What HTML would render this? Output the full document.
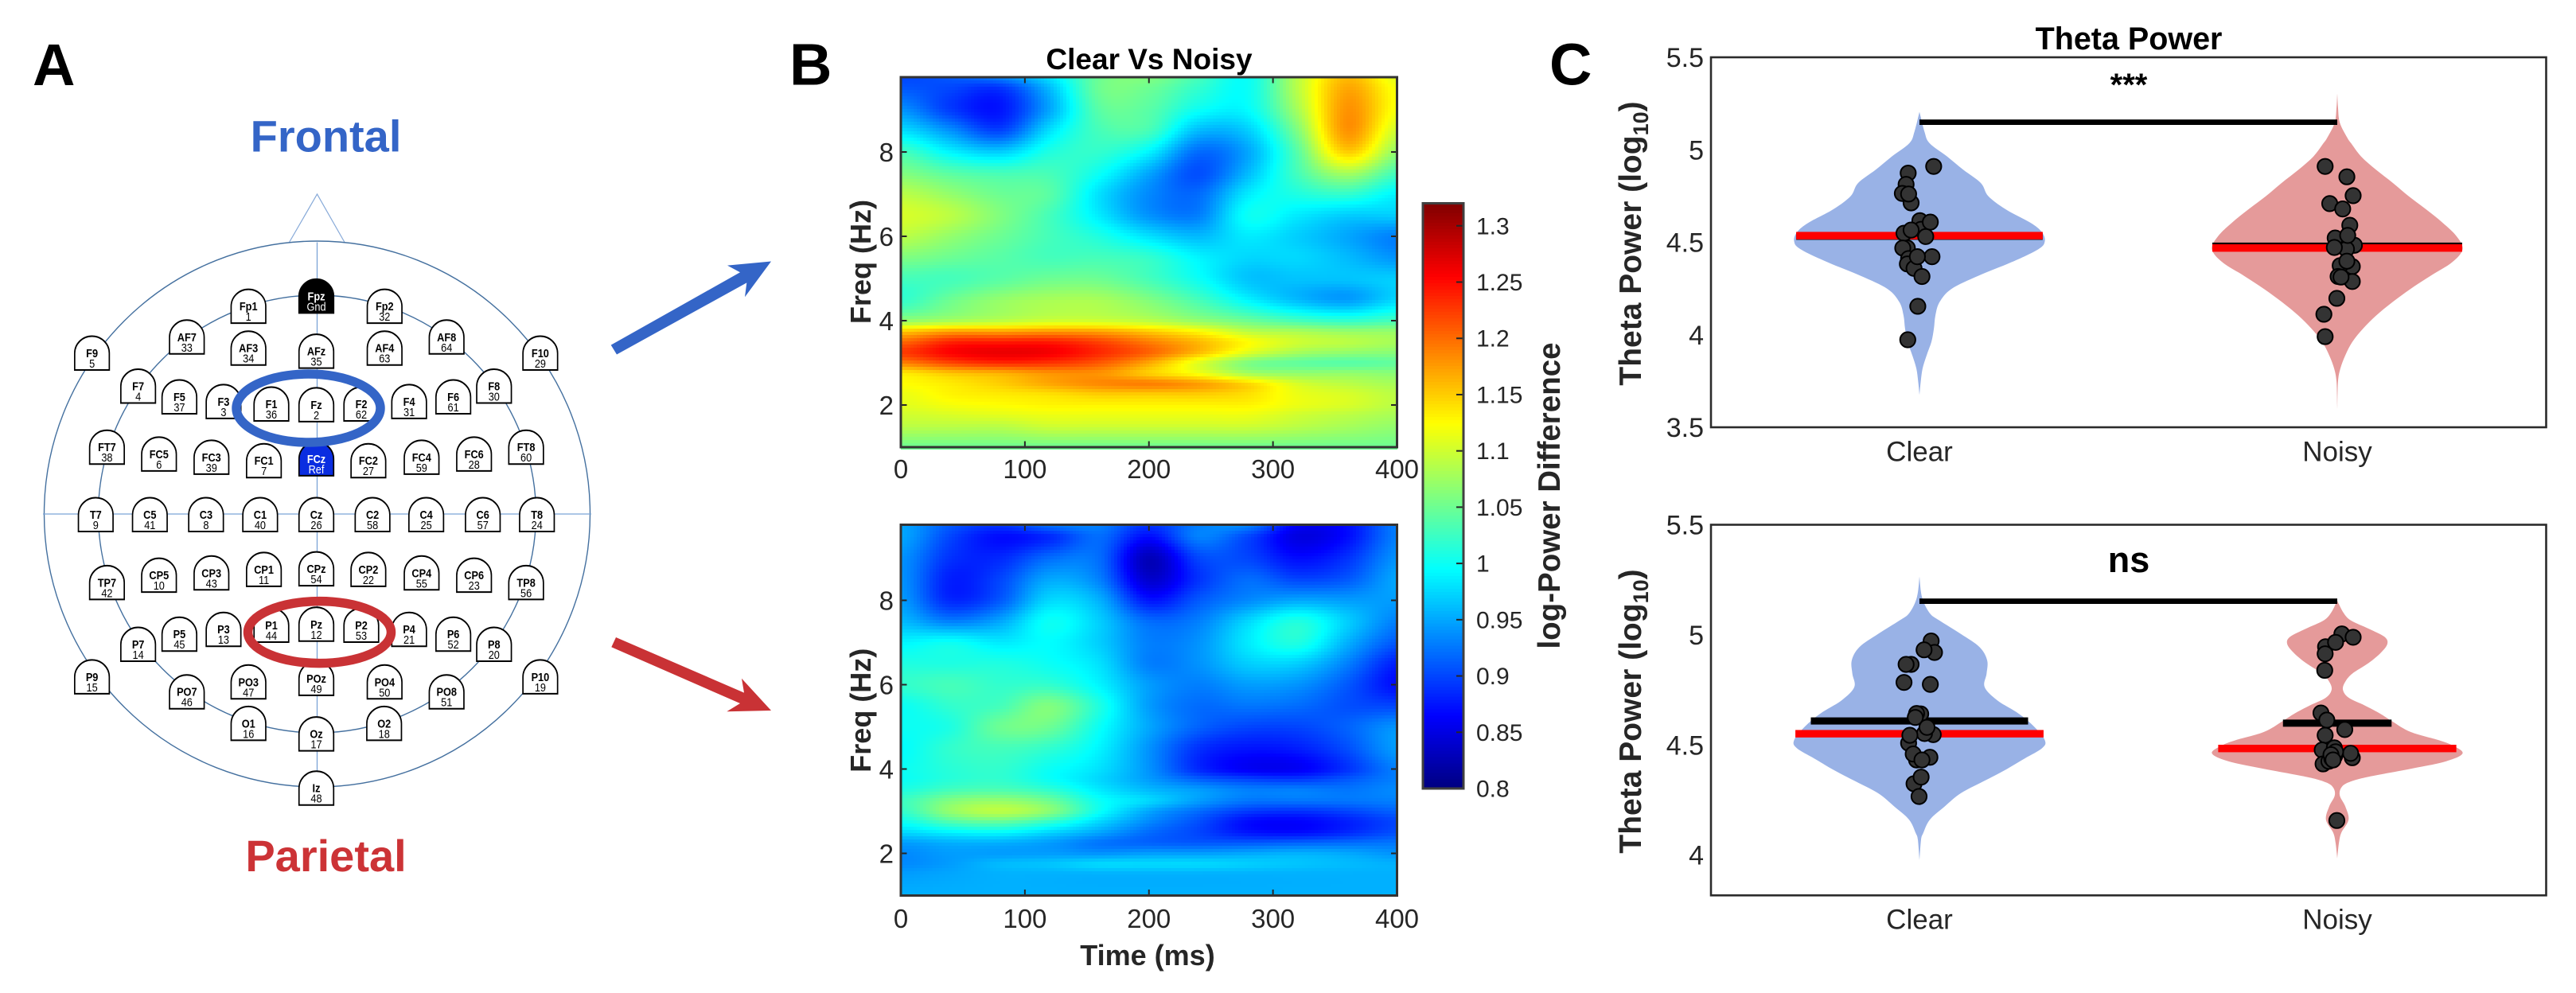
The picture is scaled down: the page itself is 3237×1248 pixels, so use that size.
<!DOCTYPE html>
<html lang="en">
<head>
<meta charset="utf-8">
<title>Clear vs Noisy Theta Power</title>
<style>
html,body{margin:0;padding:0;background:#fff;}
svg{display:block;}
text{font-family:"Liberation Sans",sans-serif;}
.en{font-size:15px;font-weight:bold;text-anchor:middle;fill:#000;}
.ed{font-size:15px;text-anchor:middle;fill:#000;}
.w{fill:#fff;}
.panel{font-size:74px;font-weight:bold;fill:#000;}
.tick{fill:#262626;}
.lab{font-weight:bold;fill:#262626;text-anchor:middle;}
</style>
</head>
<body>
<svg id="fig" xmlns="http://www.w3.org/2000/svg" width="3237" height="1248" viewBox="0 0 3237 1248">
<rect x="0" y="0" width="3237" height="1248" fill="#fff"/>
<text class="panel" x="41" y="107">A</text>
<text class="panel" x="992" y="106.5">B</text>
<text class="panel" x="1947" y="106.5">C</text>

<g id="panel-a">
<text x="409.5" y="190.6" font-size="56" font-weight="bold" fill="#3465c7" text-anchor="middle">Frontal</text>
<text x="409.5" y="1095" font-size="56" font-weight="bold" fill="#cc3336" text-anchor="middle">Parietal</text>
<path d="M363.5,304.5L398.5,244L433,304.5" fill="none" stroke="#86a9d8" stroke-width="1.2"/>
<circle cx="398.5" cy="646" r="343" fill="none" stroke="#44709f" stroke-width="1.4"/>
<circle cx="398.5" cy="646" r="275" fill="none" stroke="#44709f" stroke-width="1.4"/>
<line x1="398.5" y1="304.5" x2="398.5" y2="989" stroke="#7ba3d6" stroke-width="1.3"/>
<line x1="54" y1="646" x2="743" y2="646" stroke="#7ba3d6" stroke-width="1.3"/>
<defs><path id="electrode-shape" d="M-25.6,0V-21A25.6,21.5 0 0 1 25.6,-21V0Z" fill="#fff" stroke="#000" stroke-width="2"/></defs>
<g transform="translate(397.5,393.4) scale(.85,1)"><path d="M-25.6,0V-21A25.6,21.5 0 0 1 25.6,-21V0Z" fill="#000" stroke="#000" stroke-width="2"/><text y="-16" class="en w">Fpz</text><text y="-3" class="ed w">Gnd</text></g>
<g transform="translate(312.2,406.1) scale(.85,1)"><use href="#electrode-shape"/><text y="-16" class="en">Fp1</text><text y="-3" class="ed">1</text></g>
<g transform="translate(483.3,406.1) scale(.85,1)"><use href="#electrode-shape"/><text y="-16" class="en">Fp2</text><text y="-3" class="ed">32</text></g>
<g transform="translate(234.8,444.8) scale(.85,1)"><use href="#electrode-shape"/><text y="-16" class="en">AF7</text><text y="-3" class="ed">33</text></g>
<g transform="translate(312.2,458.7) scale(.85,1)"><use href="#electrode-shape"/><text y="-16" class="en">AF3</text><text y="-3" class="ed">34</text></g>
<g transform="translate(397.5,462.6) scale(.85,1)"><use href="#electrode-shape"/><text y="-16" class="en">AFz</text><text y="-3" class="ed">35</text></g>
<g transform="translate(483.3,458.7) scale(.85,1)"><use href="#electrode-shape"/><text y="-16" class="en">AF4</text><text y="-3" class="ed">63</text></g>
<g transform="translate(561.2,444.8) scale(.85,1)"><use href="#electrode-shape"/><text y="-16" class="en">AF8</text><text y="-3" class="ed">64</text></g>
<g transform="translate(115.6,465) scale(.85,1)"><use href="#electrode-shape"/><text y="-16" class="en">F9</text><text y="-3" class="ed">5</text></g>
<g transform="translate(678.9,465) scale(.85,1)"><use href="#electrode-shape"/><text y="-16" class="en">F10</text><text y="-3" class="ed">29</text></g>
<g transform="translate(173.6,506.5) scale(.85,1)"><use href="#electrode-shape"/><text y="-16" class="en">F7</text><text y="-3" class="ed">4</text></g>
<g transform="translate(225.4,520) scale(.85,1)"><use href="#electrode-shape"/><text y="-16" class="en">F5</text><text y="-3" class="ed">37</text></g>
<g transform="translate(280.9,525.9) scale(.85,1)"><use href="#electrode-shape"/><text y="-16" class="en">F3</text><text y="-3" class="ed">3</text></g>
<g transform="translate(341,529) scale(.85,1)"><use href="#electrode-shape"/><text y="-16" class="en">F1</text><text y="-3" class="ed">36</text></g>
<g transform="translate(397.5,529.9) scale(.85,1)"><use href="#electrode-shape"/><text y="-16" class="en">Fz</text><text y="-3" class="ed">2</text></g>
<g transform="translate(454,529) scale(.85,1)"><use href="#electrode-shape"/><text y="-16" class="en">F2</text><text y="-3" class="ed">62</text></g>
<g transform="translate(514.1,525.9) scale(.85,1)"><use href="#electrode-shape"/><text y="-16" class="en">F4</text><text y="-3" class="ed">31</text></g>
<g transform="translate(569.6,520) scale(.85,1)"><use href="#electrode-shape"/><text y="-16" class="en">F6</text><text y="-3" class="ed">61</text></g>
<g transform="translate(620.8,506.5) scale(.85,1)"><use href="#electrode-shape"/><text y="-16" class="en">F8</text><text y="-3" class="ed">30</text></g>
<g transform="translate(134.4,583.2) scale(.85,1)"><use href="#electrode-shape"/><text y="-16" class="en">FT7</text><text y="-3" class="ed">38</text></g>
<g transform="translate(199.8,591.9) scale(.85,1)"><use href="#electrode-shape"/><text y="-16" class="en">FC5</text><text y="-3" class="ed">6</text></g>
<g transform="translate(265.7,595.9) scale(.85,1)"><use href="#electrode-shape"/><text y="-16" class="en">FC3</text><text y="-3" class="ed">39</text></g>
<g transform="translate(331.6,600.2) scale(.85,1)"><use href="#electrode-shape"/><text y="-16" class="en">FC1</text><text y="-3" class="ed">7</text></g>
<g transform="translate(397.5,597.9) scale(.85,1)"><path d="M-25.6,0V-21A25.6,21.5 0 0 1 25.6,-21V0Z" fill="#0a2de0" stroke="#000" stroke-width="2"/><text y="-16" class="en w">FCz</text><text y="-3" class="ed w">Ref</text></g>
<g transform="translate(462.9,600.2) scale(.85,1)"><use href="#electrode-shape"/><text y="-16" class="en">FC2</text><text y="-3" class="ed">27</text></g>
<g transform="translate(529.8,595.9) scale(.85,1)"><use href="#electrode-shape"/><text y="-16" class="en">FC4</text><text y="-3" class="ed">59</text></g>
<g transform="translate(595.7,591.9) scale(.85,1)"><use href="#electrode-shape"/><text y="-16" class="en">FC6</text><text y="-3" class="ed">28</text></g>
<g transform="translate(661.1,583.2) scale(.85,1)"><use href="#electrode-shape"/><text y="-16" class="en">FT8</text><text y="-3" class="ed">60</text></g>
<g transform="translate(120.3,668) scale(.85,1)"><use href="#electrode-shape"/><text y="-16" class="en">T7</text><text y="-3" class="ed">9</text></g>
<g transform="translate(188.3,668) scale(.85,1)"><use href="#electrode-shape"/><text y="-16" class="en">C5</text><text y="-3" class="ed">41</text></g>
<g transform="translate(258.9,668) scale(.85,1)"><use href="#electrode-shape"/><text y="-16" class="en">C3</text><text y="-3" class="ed">8</text></g>
<g transform="translate(326.9,668) scale(.85,1)"><use href="#electrode-shape"/><text y="-16" class="en">C1</text><text y="-3" class="ed">40</text></g>
<g transform="translate(397.5,668) scale(.85,1)"><use href="#electrode-shape"/><text y="-16" class="en">Cz</text><text y="-3" class="ed">26</text></g>
<g transform="translate(468.1,668) scale(.85,1)"><use href="#electrode-shape"/><text y="-16" class="en">C2</text><text y="-3" class="ed">58</text></g>
<g transform="translate(535.6,668) scale(.85,1)"><use href="#electrode-shape"/><text y="-16" class="en">C4</text><text y="-3" class="ed">25</text></g>
<g transform="translate(606.7,668) scale(.85,1)"><use href="#electrode-shape"/><text y="-16" class="en">C6</text><text y="-3" class="ed">57</text></g>
<g transform="translate(674.7,668) scale(.85,1)"><use href="#electrode-shape"/><text y="-16" class="en">T8</text><text y="-3" class="ed">24</text></g>
<g transform="translate(134.4,753.4) scale(.85,1)"><use href="#electrode-shape"/><text y="-16" class="en">TP7</text><text y="-3" class="ed">42</text></g>
<g transform="translate(199.8,744.1) scale(.85,1)"><use href="#electrode-shape"/><text y="-16" class="en">CP5</text><text y="-3" class="ed">10</text></g>
<g transform="translate(265.7,741.3) scale(.85,1)"><use href="#electrode-shape"/><text y="-16" class="en">CP3</text><text y="-3" class="ed">43</text></g>
<g transform="translate(331.6,736.9) scale(.85,1)"><use href="#electrode-shape"/><text y="-16" class="en">CP1</text><text y="-3" class="ed">11</text></g>
<g transform="translate(397.5,736.1) scale(.85,1)"><use href="#electrode-shape"/><text y="-16" class="en">CPz</text><text y="-3" class="ed">54</text></g>
<g transform="translate(462.9,736.9) scale(.85,1)"><use href="#electrode-shape"/><text y="-16" class="en">CP2</text><text y="-3" class="ed">22</text></g>
<g transform="translate(529.8,741.3) scale(.85,1)"><use href="#electrode-shape"/><text y="-16" class="en">CP4</text><text y="-3" class="ed">55</text></g>
<g transform="translate(595.7,744.1) scale(.85,1)"><use href="#electrode-shape"/><text y="-16" class="en">CP6</text><text y="-3" class="ed">23</text></g>
<g transform="translate(661.1,753.4) scale(.85,1)"><use href="#electrode-shape"/><text y="-16" class="en">TP8</text><text y="-3" class="ed">56</text></g>
<g transform="translate(173.6,831) scale(.85,1)"><use href="#electrode-shape"/><text y="-16" class="en">P7</text><text y="-3" class="ed">14</text></g>
<g transform="translate(225.4,818.2) scale(.85,1)"><use href="#electrode-shape"/><text y="-16" class="en">P5</text><text y="-3" class="ed">45</text></g>
<g transform="translate(280.9,812.2) scale(.85,1)"><use href="#electrode-shape"/><text y="-16" class="en">P3</text><text y="-3" class="ed">13</text></g>
<g transform="translate(341,807) scale(.85,1)"><use href="#electrode-shape"/><text y="-16" class="en">P1</text><text y="-3" class="ed">44</text></g>
<g transform="translate(397.5,805.8) scale(.85,1)"><use href="#electrode-shape"/><text y="-16" class="en">Pz</text><text y="-3" class="ed">12</text></g>
<g transform="translate(454,807) scale(.85,1)"><use href="#electrode-shape"/><text y="-16" class="en">P2</text><text y="-3" class="ed">53</text></g>
<g transform="translate(514.1,812.2) scale(.85,1)"><use href="#electrode-shape"/><text y="-16" class="en">P4</text><text y="-3" class="ed">21</text></g>
<g transform="translate(569.6,818.2) scale(.85,1)"><use href="#electrode-shape"/><text y="-16" class="en">P6</text><text y="-3" class="ed">52</text></g>
<g transform="translate(620.8,831) scale(.85,1)"><use href="#electrode-shape"/><text y="-16" class="en">P8</text><text y="-3" class="ed">20</text></g>
<g transform="translate(115.6,871.9) scale(.85,1)"><use href="#electrode-shape"/><text y="-16" class="en">P9</text><text y="-3" class="ed">15</text></g>
<g transform="translate(678.9,871.9) scale(.85,1)"><use href="#electrode-shape"/><text y="-16" class="en">P10</text><text y="-3" class="ed">19</text></g>
<g transform="translate(234.8,890.7) scale(.85,1)"><use href="#electrode-shape"/><text y="-16" class="en">PO7</text><text y="-3" class="ed">46</text></g>
<g transform="translate(312.2,878.3) scale(.85,1)"><use href="#electrode-shape"/><text y="-16" class="en">PO3</text><text y="-3" class="ed">47</text></g>
<g transform="translate(397.5,873.9) scale(.85,1)"><use href="#electrode-shape"/><text y="-16" class="en">POz</text><text y="-3" class="ed">49</text></g>
<g transform="translate(483.3,878.3) scale(.85,1)"><use href="#electrode-shape"/><text y="-16" class="en">PO4</text><text y="-3" class="ed">50</text></g>
<g transform="translate(561.2,890.7) scale(.85,1)"><use href="#electrode-shape"/><text y="-16" class="en">PO8</text><text y="-3" class="ed">51</text></g>
<g transform="translate(312.2,930.4) scale(.85,1)"><use href="#electrode-shape"/><text y="-16" class="en">O1</text><text y="-3" class="ed">16</text></g>
<g transform="translate(397.5,943.6) scale(.85,1)"><use href="#electrode-shape"/><text y="-16" class="en">Oz</text><text y="-3" class="ed">17</text></g>
<g transform="translate(482.7,930.4) scale(.85,1)"><use href="#electrode-shape"/><text y="-16" class="en">O2</text><text y="-3" class="ed">18</text></g>
<g transform="translate(397.5,1011.7) scale(.85,1)"><use href="#electrode-shape"/><text y="-16" class="en">Iz</text><text y="-3" class="ed">48</text></g>
<ellipse cx="387.5" cy="513" rx="90.5" ry="43" fill="none" stroke="#3465c7" stroke-width="11.5"/>
<ellipse cx="401.5" cy="794.6" rx="90" ry="39" fill="none" stroke="#c93235" stroke-width="11.5"/>
<polygon fill="#3465c7" points="767.7,433.6 775,445.5 938.3,355.4 936,373.2 969,328.5 914,333.6 930,342.3"/>
<polygon fill="#c93235" points="774,801 768.3,813.3 930,884 913.3,894.3 969,893 932,852.8 935,870.6"/>
</g>

<g id="panel-b">
<text x="1444" y="87" font-size="37" font-weight="bold" fill="#000" text-anchor="middle">Clear Vs Noisy</text>
<text class="lab" font-size="36" transform="translate(1094,329) rotate(-90)">Freq (Hz)</text>
<text class="lab" font-size="36" transform="translate(1094,892.7) rotate(-90)">Freq (Hz)</text>
<text class="lab" font-size="36" x="1442" y="1213">Time (ms)</text>
<text class="lab" font-size="38.5" transform="translate(1960,623) rotate(-90)">log-Power Difference</text>
</g>
<g id="panel-c">
<text x="2675" y="62" font-size="39.5" font-weight="bold" fill="#000" text-anchor="middle">Theta Power</text>
<text class="lab" font-size="39" transform="translate(2062,306) rotate(-90)">Theta Power (log<tspan font-size="27" dy="9">10</tspan><tspan dy="-9">)</tspan></text>
<text class="lab" font-size="39" transform="translate(2062,894) rotate(-90)">Theta Power (log<tspan font-size="27" dy="9">10</tspan><tspan dy="-9">)</tspan></text>
</g>
</svg>
<script>
/* ---------- heatmap data: each inner array is one time column, listed across heatFreqs ---------- */
const heatTimes = [0,40,80,120,160,200,240,280,320,360,400];
const heatFreqs = [9.75,9.5,9,8.5,8,7.5,7,6.5,6,5.5,5,4.5,4,3.75,3.5,3.25,3,2.75,2.5,2.25,2,1.75,1.5,1];
const upperPower = [
[.90,.91,.94,.98,1.03,1.06,1.09,1.105,1.09,1.06,1.03,1.02,1.07,1.15,1.20,1.225,1.19,1.135,1.125,1.115,1.11,1.10,1.09,1.05],
[.91,.90,.895,.94,.99,1.04,1.07,1.09,1.07,1.05,1.03,1.05,1.08,1.17,1.235,1.255,1.22,1.155,1.135,1.13,1.12,1.105,1.09,1.05],
[.93,.89,.875,.90,.97,1.03,1.05,1.06,1.05,1.04,1.04,1.07,1.09,1.17,1.24,1.265,1.235,1.165,1.15,1.135,1.125,1.11,1.09,1.05],
[.98,.96,.95,.98,1.01,1.03,1.04,1.03,1.03,1.03,1.05,1.08,1.10,1.175,1.24,1.26,1.23,1.18,1.17,1.14,1.13,1.115,1.10,1.05],
[1.05,1.05,1.04,1.03,1.02,1.00,.98,.985,1.01,1.03,1.05,1.08,1.10,1.17,1.22,1.235,1.21,1.18,1.185,1.15,1.13,1.115,1.10,1.05],
[1.06,1.05,1.04,1.03,.99,.95,.935,.94,.98,1.02,1.03,1.06,1.09,1.15,1.19,1.205,1.17,1.15,1.19,1.15,1.13,1.115,1.10,1.05],
[1.03,1.02,1.00,.96,.92,.905,.92,.93,.96,.99,1.00,1.03,1.07,1.125,1.16,1.16,1.11,1.12,1.175,1.15,1.13,1.115,1.10,1.05],
[1.00,1.00,.995,.97,.95,.96,.985,1.00,.985,.975,.965,.99,1.05,1.09,1.125,1.11,1.06,1.08,1.145,1.14,1.13,1.115,1.10,1.05],
[1.09,1.09,1.08,1.06,1.04,1.03,1.01,.985,.97,.975,.965,.96,1.03,1.08,1.10,1.08,1.045,1.07,1.105,1.115,1.115,1.10,1.09,1.05],
[1.16,1.17,1.18,1.18,1.15,1.08,1.02,.97,.95,.96,.965,.945,1.02,1.07,1.09,1.07,1.04,1.07,1.09,1.105,1.105,1.09,1.08,1.05],
[1.11,1.12,1.12,1.10,1.07,1.03,.99,.97,.93,.94,.97,.975,1.03,1.07,1.08,1.065,1.045,1.065,1.08,1.09,1.09,1.08,1.07,1.05]
];
const lowerPower = [
[.95,.95,.94,.94,.945,.96,.99,1.01,1.02,1.00,1.00,.995,1.00,1.00,1.01,1.025,1.02,1.00,.975,.945,.935,.935,.945,.955],
[.91,.90,.89,.88,.885,.93,1.00,1.01,1.03,1.02,1.01,1.02,1.015,1.015,1.03,1.06,1.07,1.035,.99,.955,.945,.945,.95,.955],
[.89,.87,.885,.90,.91,.95,.985,1.01,1.02,1.03,1.05,1.03,1.02,1.02,1.035,1.07,1.09,1.045,.995,.955,.945,.96,.955,.955],
[.92,.885,.92,.95,.975,1.00,.995,1.00,1.02,1.06,1.05,1.02,1.00,1.00,1.02,1.05,1.065,1.02,.975,.945,.945,.965,.955,.955],
[.93,.92,.92,.93,.955,.97,.97,.98,.99,1.01,1.00,.99,.98,.975,.985,1.00,1.00,.975,.95,.925,.94,.975,.955,.955],
[.89,.87,.83,.84,.875,.92,.93,.93,.945,.945,.95,.94,.94,.945,.96,.975,.95,.935,.92,.915,.945,.975,.955,.955],
[.93,.93,.90,.89,.91,.93,.94,.94,.93,.92,.915,.89,.885,.915,.945,.945,.92,.905,.90,.91,.945,.975,.955,.955],
[.93,.90,.90,.92,.935,.975,.985,.97,.945,.925,.90,.875,.86,.90,.93,.925,.895,.87,.875,.91,.95,.97,.955,.955],
[.86,.85,.87,.90,.95,1.01,1.01,.97,.94,.92,.90,.88,.86,.895,.93,.925,.89,.865,.87,.915,.955,.965,.955,.955],
[.87,.87,.89,.91,.945,.97,.955,.93,.91,.905,.915,.905,.89,.91,.925,.925,.90,.88,.885,.92,.95,.96,.955,.955],
[.93,.93,.94,.95,.945,.93,.91,.88,.87,.90,.94,.945,.93,.93,.935,.93,.915,.90,.905,.925,.94,.955,.955,.955]
];
const heatXTicks = [0,100,200,300,400];
const heatYTicks = [2,4,6,8];
const colorbarTicks = ['0.8','0.85','0.9','0.95','1','1.05','1.1','1.15','1.2','1.25','1.3'];
const colorMin = 0.8;
const colorMax = 1.32;

/* ---------- violin data ---------- */
const categories = ['Clear','Noisy'];
const topYTicks = ['3.5','4','4.5','5','5.5'];
const bottomYTicks = ['4','4.5','5','5.5'];

const topClearLevels  = [5.205,5.098,5.036,4.964,4.892,4.82,4.749,4.677,4.606,4.556,4.506,4.463,4.391,4.319,4.248,4.176,4.104,4.033,3.961,3.889,3.818,3.746,3.675];
const topClearDensity = [0,.04,.08,.22,.35,.49,.55,.69,.885,.975,1,.95,.73,.47,.255,.16,.127,.115,.095,.057,.025,.01,0];
const topNoisyLevels  = [5.304,5.23,5.147,5.065,5.036,4.964,4.892,4.82,4.749,4.677,4.606,4.534,4.463,4.391,4.319,4.248,4.176,4.104,4.033,3.961,3.889,3.818,3.746,3.6];
const topNoisyDensity = [0,.006,.02,.08,.11,.19,.31,.445,.57,.71,.84,.95,1,.915,.745,.585,.44,.31,.205,.12,.064,.025,.006,0];
const bottomClearLevels  = [5.264,5.171,5.1,5.065,5.004,4.944,4.884,4.823,4.763,4.703,4.643,4.583,4.522,4.486,4.439,4.39,4.342,4.281,4.22,4.161,4.1,4.07,3.978];
const bottomClearDensity = [0,.02,.08,.16,.33,.48,.54,.535,.52,.62,.79,.915,1,.98,.84,.695,.535,.33,.2,.083,.03,.013,0];
const bottomNoisyLevels  = [5.155,5.1,5.065,5.028,4.992,4.96,4.92,4.872,4.824,4.787,4.751,4.715,4.679,4.643,4.607,4.559,4.522,4.498,4.462,4.426,4.39,4.354,4.33,4.306,4.27,4.221,4.161,4.101,4.053,3.985];
const bottomNoisyDensity = [0,.05,.11,.25,.375,.40,.35,.25,.12,.064,.045,.09,.22,.34,.44,.585,.81,.92,1,.87,.57,.235,.09,.032,.02,.064,.09,.032,.013,0];

const topClearValues = [4.910,4.874,4.813,4.713,4.764,4.761,4.617,4.570,4.609,4.531,4.549,4.566,4.469,4.469,4.422,4.412,4.383,4.359,4.315,4.422,4.154,3.973];
const topClearJitter = [.034,-.027,-.032,-.020,-.041,-.026,.001,.004,.026,.015,-.037,-.020,-.029,-.040,.030,-.026,-.029,-.013,.006,-.005,-.004,-.028];
const topNoisyValues = [4.910,4.854,4.752,4.709,4.680,4.592,4.523,4.484,4.463,4.537,4.472,4.369,4.288,4.374,4.398,4.315,4.312,4.197,4.111,3.990];
const topNoisyJitter = [-.029,.023,.038,-.018,.013,.030,-.005,.041,.022,.025,-.007,.036,.036,.007,.023,.002,.009,-.001,-.032,-.029];
const bottomClearValues = [4.972,4.920,4.932,4.866,4.866,4.784,4.775,4.641,4.643,4.625,4.547,4.552,4.508,4.544,4.580,4.432,4.444,4.459,4.432,4.324,4.354,4.266];
const bottomClearJitter = [.028,.036,.011,-.020,-.032,-.037,.026,.003,-.007,-.010,.033,.012,-.026,-.023,.018,-.007,.025,-.015,.006,-.013,.004,-.001];
const bottomNoisyValues = [5.004,4.989,4.946,4.914,4.966,4.839,4.645,4.613,4.570,4.544,4.477,4.414,4.442,4.462,4.487,4.426,4.438,4.450,4.469,4.456,4.432,4.157];
const bottomNoisyJitter = [.011,.038,-.028,-.029,-.004,-.030,-.039,-.025,.018,-.029,-.036,-.034,.036,.032,-.007,-.020,-.013,-.006,-.004,-.015,-.010,-.001];

const topMedians = [4.5326,4.479];
const topMeans = [4.536,4.469];
const topMedianHalfWidths = [.295,.299];
const topMeanHalfWidths = [.295,.299];
const bottomMedians = [4.609,4.599];
const bottomMeans = [4.551,4.484];
const bottomMedianHalfWidths = [.26,.13];
const bottomMeanHalfWidths = [.297,.285];

/* ---------- drawing ---------- */
const SVGNS = 'http://www.w3.org/2000/svg';
const fig = document.getElementById('fig');
function mk(tag, attrs, parent) {
  const el = document.createElementNS(SVGNS, tag);
  for (const k in attrs) el.setAttribute(k, attrs[k]);
  (parent || fig).appendChild(el);
  return el;
}
function clamp01(x) { return Math.max(0, Math.min(1, x)); }
function jet(v) {
  const t = clamp01((v - colorMin) / (colorMax - colorMin));
  const r = clamp01(1.5 - Math.abs(4 * t - 3));
  const g = clamp01(1.5 - Math.abs(4 * t - 2));
  const b = clamp01(1.5 - Math.abs(4 * t - 1));
  return 'rgb(' + Math.round(r * 255) + ',' + Math.round(g * 255) + ',' + Math.round(b * 255) + ')';
}
function catmull(p0, p1, p2, p3, u) {
  return 0.5 * (2 * p1 + (p2 - p0) * u + (2 * p0 - 5 * p1 + 4 * p2 - p3) * u * u + (3 * p1 - p0 - 3 * p2 + p3) * u * u * u);
}
function locate(arr, val) {
  const desc = arr[0] > arr[arr.length - 1];
  let i = 0;
  while (i < arr.length - 2 && (desc ? val < arr[i + 1] : val > arr[i + 1])) i++;
  const u = Math.max(0, Math.min(1, (val - arr[i]) / (arr[i + 1] - arr[i])));
  return [i, u];
}
function slopeAt(C, k) {
  const a = Math.max(0, k - 1);
  const b = Math.min(C.length - 1, k + 1);
  return (C[b] - C[a]) / (heatFreqs[b] - heatFreqs[a]);
}
function sampleColumn(C, ri, ru) {
  const h = heatFreqs[ri + 1] - heatFreqs[ri];
  const u = ru, u2 = u * u, u3 = u2 * u;
  return (2 * u3 - 3 * u2 + 1) * C[ri] + (u3 - 2 * u2 + u) * h * slopeAt(C, ri) +
         (-2 * u3 + 3 * u2) * C[ri + 1] + (u3 - u2) * h * slopeAt(C, ri + 1);
}
function sampleHeat(grid, t, f) {
  const [ci, cu] = locate(heatTimes, t);
  const [ri, ru] = locate(heatFreqs, f);
  const col = function (c) {
    const C = grid[Math.max(0, Math.min(grid.length - 1, c))];
    return sampleColumn(C, ri, ru);
  };
  return catmull(col(ci - 1), col(ci), col(ci + 1), col(ci + 2), cu);
}

function drawHeatmap(name, grid, box, yLo, yHi, xLabelBaseline) {
  const xOf = function (t) { return box.l + t / 400 * (box.r - box.l); };
  const tOf = function (x) { return (x - box.l) / (box.r - box.l) * 400; };
  const yOf = function (f) { return box.b - (f - yLo) / (yHi - yLo) * (box.b - box.t); };
  const fOf = function (y) { return yLo + (box.b - y) / (box.b - box.t) * (yHi - yLo); };
  const g = mk('g', {'shape-rendering': 'crispEdges'});
  
  
  const step = 4;
  for (let py = Math.floor(box.t); py < box.b; py += step) {
    for (let px = Math.floor(box.l); px < box.r; px += step) {
      const v = sampleHeat(grid, tOf(px + step / 2), fOf(py + step / 2));
      const cell = mk('rect', {x: px, y: py, width: step, height: step, fill: jet(v)}, g);
      
      
    }
  }
  heatXTicks.forEach(function (t) {
    [[box.b, box.b - 7.5], [box.t, box.t + 7.5]].forEach(function (s) {
      const tk = mk('line', {x1: xOf(t), x2: xOf(t), y1: s[0], y2: s[1], stroke: '#262626', 'stroke-width': 2});
      
      
    });
    const lb = mk('text', {x: xOf(t), y: xLabelBaseline, 'font-size': 33, 'text-anchor': 'middle', class: 'tick'});
    lb.textContent = String(t);
    
    
  });
  heatYTicks.forEach(function (f) {
    [[box.l, box.l + 7.5], [box.r, box.r - 7.5]].forEach(function (s) {
      const tk = mk('line', {x1: s[0], x2: s[1], y1: yOf(f), y2: yOf(f), stroke: '#262626', 'stroke-width': 2});
      
      
    });
    const lb = mk('text', {x: 1123, y: yOf(f) + 12, 'font-size': 33, 'text-anchor': 'end', class: 'tick'});
    lb.textContent = String(f);
    
    
  });
  const fr = mk('rect', {x: box.l, y: box.t, width: box.r - box.l, height: box.b - box.t, fill: 'none', stroke: '#333', 'stroke-width': 3});
  
  
}
drawHeatmap('upper', upperPower, {l: 1132, r: 1755.5, t: 97, b: 562}, 1, 1 + (562 - 97) / 53, 601);
drawHeatmap('lower', lowerPower, {l: 1132, r: 1755.5, t: 659.5, b: 1125.5}, 1, 1 + (1125.5 - 659.5) / 53, 1166);

/* colorbar */
(function () {
  const box = {l: 1788, r: 1839, t: 255.5, b: 991};
  const yOf = function (v) { return box.b - (v - colorMin) / (colorMax - colorMin) * (box.b - box.t); };
  const g = mk('g', {'shape-rendering': 'crispEdges'});
  
  
  const n = 184;
  for (let i = 0; i < n; i++) {
    const v0 = colorMin + (colorMax - colorMin) * i / n;
    const v1 = colorMin + (colorMax - colorMin) * (i + 1) / n;
    const seg = mk('rect', {x: box.l, y: yOf(v1), width: box.r - box.l, height: yOf(v0) - yOf(v1) + 0.6, fill: jet((v0 + v1) / 2)}, g);
    
    
  }
  colorbarTicks.forEach(function (s) {
    const v = parseFloat(s);
    const tk = mk('line', {x1: box.r, x2: box.r - 9, y1: yOf(v), y2: yOf(v), stroke: '#262626', 'stroke-width': 2});
    
    
    const lb = mk('text', {x: 1855, y: yOf(v) + 10.5, 'font-size': 30, class: 'tick'});
    lb.textContent = s;
    
    
  });
  const fr = mk('rect', {x: box.l, y: box.t, width: box.r - box.l, height: box.b - box.t, fill: 'none', stroke: '#404040', 'stroke-width': 3});
  
  
})();

/* violins */
const violinColors = ['#99b2e6', '#e59a9a'];
const catX0 = 2412;
const catUnit = 525;
const maxHalfWidth = 0.3;
function catX(c) { return catX0 + c * catUnit; }
function smoothPath(pts) {
  let d = 'M' + pts[0][0].toFixed(1) + ',' + pts[0][1].toFixed(1);
  for (let i = 0; i < pts.length - 1; i++) {
    const p0 = pts[Math.max(0, i - 1)], p1 = pts[i], p2 = pts[i + 1], p3 = pts[Math.min(pts.length - 1, i + 2)];
    d += 'C' + (p1[0] + (p2[0] - p0[0]) / 6).toFixed(1) + ',' + (p1[1] + (p2[1] - p0[1]) / 6).toFixed(1) +
         ' ' + (p2[0] - (p3[0] - p1[0]) / 6).toFixed(1) + ',' + (p2[1] - (p3[1] - p1[1]) / 6).toFixed(1) +
         ' ' + p2[0].toFixed(1) + ',' + p2[1].toFixed(1);
  }
  return d;
}

function drawViolinPanel(cfg) {
  const yOf = function (v) { return cfg.t + (cfg.yMax - v) / (cfg.yMax - cfg.yMin) * (cfg.b - cfg.t); };
  const fr = mk('rect', {x: 2150, y: cfg.t, width: 1049.5, height: cfg.b - cfg.t, fill: '#fff', stroke: '#2b2b2b', 'stroke-width': 2.6});
  
  
  cfg.yTicks.forEach(function (s) {
    const lb = mk('text', {x: 2141, y: yOf(parseFloat(s)) + 12, 'font-size': 34, 'text-anchor': 'end', class: 'tick'});
    lb.textContent = s;
    
    
  });
  categories.forEach(function (cat, c) {
    const lb = mk('text', {x: catX(c), y: cfg.xBase, 'font-size': 35, 'text-anchor': 'middle', class: 'tick'});
    lb.textContent = cat;
    
    

    const levels = cfg.levels[c];
    const dens = cfg.density[c];
    const right = levels.map(function (lv, i) { return [catX(c) + dens[i] * maxHalfWidth * catUnit, yOf(lv)]; });
    const left = levels.map(function (lv, i) { return [catX(c) - dens[i] * maxHalfWidth * catUnit, yOf(lv)]; }).reverse();
    const d = smoothPath(right) + smoothPath(left).replace(/^M[^C]*/, 'L' + left[0][0].toFixed(1) + ',' + left[0][1].toFixed(1));
    const body = mk('path', {d: d + 'Z', fill: violinColors[c], stroke: 'none'});
    
    

    const medH = cfg.medianHW[c] * catUnit;
    const med = mk('rect', {x: catX(c) - medH, y: yOf(cfg.medians[c]) - 4.5, width: medH * 2, height: 9, fill: '#000'});
    
    
    const meanH = cfg.meanHW[c] * catUnit;
    const mean = mk('rect', {x: catX(c) - meanH, y: yOf(cfg.means[c]) - 4.7, width: meanH * 2, height: 9.4, fill: '#ff0000'});
    
    

    cfg.values[c].forEach(function (v, i) {
      const pt = mk('circle', {cx: catX(c) + cfg.jitter[c][i] * catUnit, cy: yOf(v), r: 9.6, fill: '#333', stroke: '#000', 'stroke-width': 2});
      
      
    });
  });
  const bar = mk('rect', {x: catX(0), y: cfg.barY - 3.4, width: catX(1) - catX(0), height: 6.8, fill: '#000'});
  
  
  const sig = mk('text', {x: 2675, y: cfg.sigY, 'font-size': cfg.sigSize, 'font-weight': 'bold', 'text-anchor': 'middle', fill: '#000'});
  sig.textContent = cfg.sig;
  
  
}
drawViolinPanel({
  name: 'upper', t: 72, b: 537, yMax: 5.5, yMin: 3.5, yTicks: topYTicks, xBase: 579.5,
  levels: [topClearLevels, topNoisyLevels], density: [topClearDensity, topNoisyDensity],
  values: [topClearValues, topNoisyValues], jitter: [topClearJitter, topNoisyJitter],
  medians: topMedians, means: topMeans, medianHW: topMedianHalfWidths, meanHW: topMeanHalfWidths,
  barY: 153.6, sig: '***', sigY: 120, sigSize: 40
});
drawViolinPanel({
  name: 'lower', t: 659.5, b: 1125.3, yMax: 5.5, yMin: 3.817, yTicks: bottomYTicks, xBase: 1167.6,
  levels: [bottomClearLevels, bottomNoisyLevels], density: [bottomClearDensity, bottomNoisyDensity],
  values: [bottomClearValues, bottomNoisyValues], jitter: [bottomClearJitter, bottomNoisyJitter],
  medians: bottomMedians, means: bottomMeans, medianHW: bottomMedianHalfWidths, meanHW: bottomMeanHalfWidths,
  barY: 755.6, sig: 'ns', sigY: 719, sigSize: 45
});
</script>
</body>
</html>
